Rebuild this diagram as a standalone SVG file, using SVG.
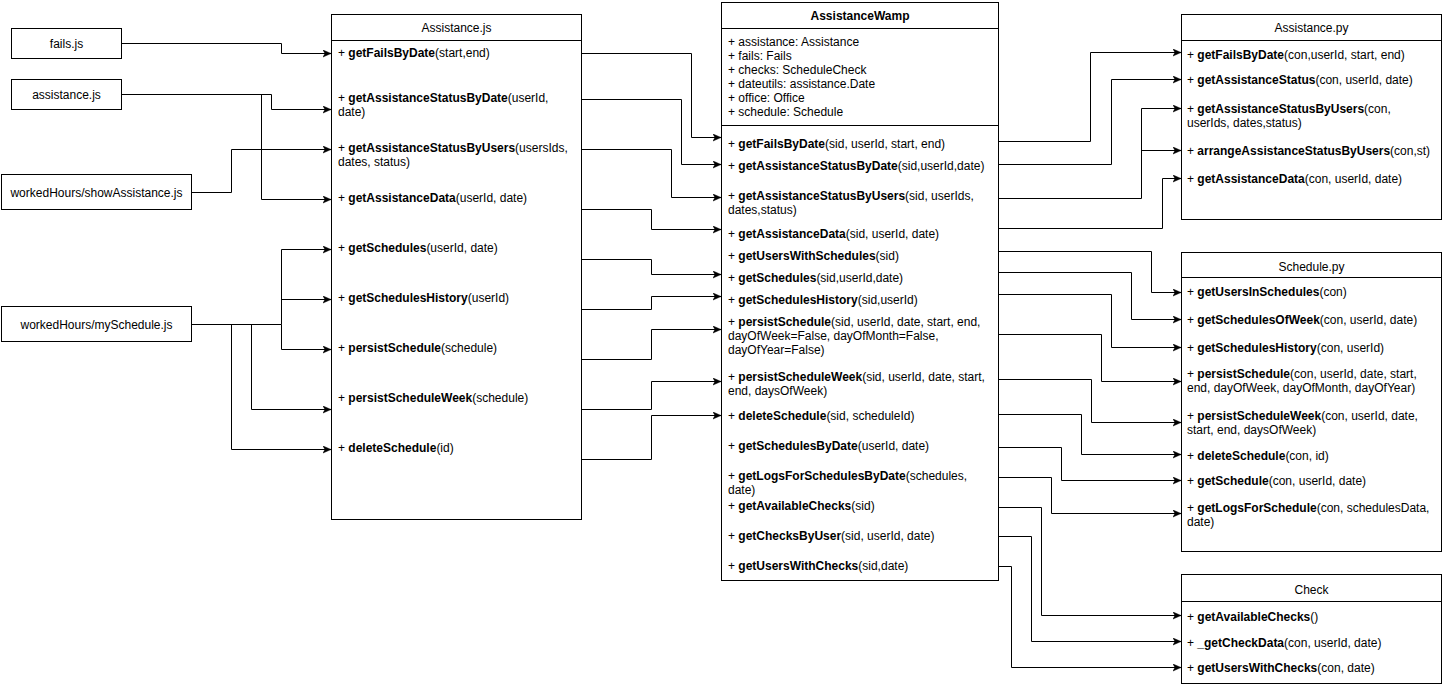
<svg xmlns="http://www.w3.org/2000/svg" width="1443" height="694" viewBox="0 0 1443 694">
<style>
.box{fill:#fff;stroke:#000;stroke-width:1}
.ln{fill:none;stroke:#000;stroke-width:1}
.t{font-family:"Liberation Sans",Arial,Helvetica,sans-serif;font-size:12px;fill:#000}
.c{text-anchor:middle}
.b{font-weight:bold}
.conn{fill:none;stroke:#000;stroke-width:1;marker-end:url(#arr)}
</style>
<defs>
<marker id="arr" markerUnits="userSpaceOnUse" markerWidth="9" markerHeight="8" viewBox="0 0 9 8" refX="8.5" refY="4" orient="auto">
<path d="M0.5,0.5 L8.5,4 L0.5,7.5 L2.5,4 z" fill="#000" stroke="#000" stroke-width="0.5"/>
</marker>
</defs>
<rect width="1443" height="694" fill="#fff"/>

<g id="connectors">
<path class="conn" d="M121.5,43.5 H281.5 V53.5 H331"/>
<path class="conn" d="M121.5,94.5 H271.5 V109.5 H331"/>
<path class="conn" d="M261.5,94.5 V199.5 H331"/>
<path class="conn" d="M191.5,192.5 H231.5 V149.5 H331"/>
<path class="conn" d="M191.5,324.5 H281.5 V249.5 H331"/>
<path class="conn" d="M281.5,299.5 H331"/>
<path class="conn" d="M281.5,324.5 V349.5 H331"/>
<path class="conn" d="M251.5,324.5 V409.5 H331"/>
<path class="conn" d="M231.5,324.5 V449.5 H331"/>

<path class="conn" d="M581.5,53.5 H691.5 V137.5 H721"/>
<path class="conn" d="M581.5,99.5 H681.5 V164.5 H721"/>
<path class="conn" d="M581.5,149.5 H671.5 V197.5 H721"/>
<path class="conn" d="M581.5,209.5 H651.5 V229.5 H721"/>
<path class="conn" d="M581.5,259.5 H651.5 V274.5 H721"/>
<path class="conn" d="M581.5,309.5 H651.5 V296.5 H721"/>
<path class="conn" d="M581.5,359.5 H651.5 V329.5 H721"/>
<path class="conn" d="M581.5,409.5 H651.5 V381.5 H721"/>
<path class="conn" d="M581.5,459.5 H651.5 V415.5 H721"/>

<path class="conn" d="M998.5,141.5 H1090.5 V52.5 H1181"/>
<path class="conn" d="M998.5,164.5 H1111.5 V79.5 H1181"/>
<path class="conn" d="M998.5,198.5 H1141.5 V108.5 H1181"/>
<path class="conn" d="M1141.5,150.5 H1181"/>
<path class="conn" d="M998.5,228.5 H1162.5 V178.5 H1181"/>

<path class="conn" d="M998.5,251.5 H1151.5 V292.5 H1181"/>
<path class="conn" d="M998.5,272.5 H1131.5 V319.5 H1181"/>
<path class="conn" d="M998.5,294.5 H1111.5 V347.5 H1181"/>
<path class="conn" d="M998.5,334.5 H1101.5 V381.5 H1181"/>
<path class="conn" d="M998.5,379.5 H1091.5 V422.5 H1181"/>
<path class="conn" d="M998.5,414.5 H1081.5 V454.5 H1181"/>
<path class="conn" d="M998.5,447.5 H1061.5 V480.5 H1181"/>
<path class="conn" d="M998.5,477.5 H1051.5 V513.5 H1181"/>

<path class="conn" d="M998.5,507.5 H1041.5 V615.5 H1181"/>
<path class="conn" d="M998.5,536.5 H1031.5 V641.5 H1181"/>
<path class="conn" d="M998.5,566.5 H1011.5 V667.5 H1181"/>
</g>

<g id="fails-js">
<rect class="box" x="11.5" y="28.5" width="110" height="30"/>
<text class="t c" x="66.5" y="47.5">fails.js</text>
</g>
<g id="assistance-js">
<rect class="box" x="11.5" y="79.5" width="110" height="30"/>
<text class="t c" x="66.5" y="98.5">assistance.js</text>
</g>
<g id="showAssistance-js">
<rect class="box" x="1.5" y="174.5" width="190" height="35"/>
<text class="t c" x="96.5" y="196.5">workedHours/showAssistance.js</text>
</g>
<g id="mySchedule-js">
<rect class="box" x="1.5" y="306.5" width="190" height="35"/>
<text class="t c" x="96.5" y="328.5">workedHours/mySchedule.js</text>
</g>

<g id="Assistance-js-class">
<rect class="box" x="331.5" y="14.5" width="250" height="505"/>
<path class="ln" d="M331.5,40.5 H581.5"/>
<text class="t c" x="456.5" y="32">Assistance.js</text>
<text class="t" x="338" y="57">+ <tspan class="b">getFailsByDate</tspan>(start,end)</text>
<text class="t" x="338" y="102">+ <tspan class="b">getAssistanceStatusByDate</tspan>(userId,</text>
<text class="t" x="338" y="116">date)</text>
<text class="t" x="338" y="152">+ <tspan class="b">getAssistanceStatusByUsers</tspan>(usersIds,</text>
<text class="t" x="338" y="166">dates, status)</text>
<text class="t" x="338" y="202">+ <tspan class="b">getAssistanceData</tspan>(userId, date)</text>
<text class="t" x="338" y="252">+ <tspan class="b">getSchedules</tspan>(userId, date)</text>
<text class="t" x="338" y="302">+ <tspan class="b">getSchedulesHistory</tspan>(userId)</text>
<text class="t" x="338" y="352">+ <tspan class="b">persistSchedule</tspan>(schedule)</text>
<text class="t" x="338" y="402">+ <tspan class="b">persistScheduleWeek</tspan>(schedule)</text>
<text class="t" x="338" y="452">+ <tspan class="b">deleteSchedule</tspan>(id)</text>
</g>

<g id="AssistanceWamp">
<rect class="box" x="721.5" y="2.5" width="277" height="578"/>
<path class="ln" d="M721.5,28.5 H998.5 M721.5,125.5 H998.5"/>
<text class="t c b" x="860" y="20">AssistanceWamp</text>
<text class="t" x="728" y="46">+ assistance: Assistance</text>
<text class="t" x="728" y="60">+ fails: Fails</text>
<text class="t" x="728" y="74">+ checks: ScheduleCheck</text>
<text class="t" x="728" y="88">+ dateutils: assistance.Date</text>
<text class="t" x="728" y="102">+ office: Office</text>
<text class="t" x="728" y="116">+ schedule: Schedule</text>
<text class="t" x="728" y="148">+ <tspan class="b">getFailsByDate</tspan>(sid, userId, start, end)</text>
<text class="t" x="728" y="170">+ <tspan class="b">getAssistanceStatusByDate</tspan>(sid,userId,date)</text>
<text class="t" x="728" y="200">+ <tspan class="b">getAssistanceStatusByUsers</tspan>(sid, userIds,</text>
<text class="t" x="728" y="214">dates,status)</text>
<text class="t" x="728" y="238">+ <tspan class="b">getAssistanceData</tspan>(sid, userId, date)</text>
<text class="t" x="728" y="260">+ <tspan class="b">getUsersWithSchedules</tspan>(sid)</text>
<text class="t" x="728" y="282">+ <tspan class="b">getSchedules</tspan>(sid,userId,date)</text>
<text class="t" x="728" y="304">+ <tspan class="b">getSchedulesHistory</tspan>(sid,userId)</text>
<text class="t" x="728" y="326">+ <tspan class="b">persistSchedule</tspan>(sid, userId, date, start, end,</text>
<text class="t" x="728" y="340">dayOfWeek=False, dayOfMonth=False,</text>
<text class="t" x="728" y="354">dayOfYear=False)</text>
<text class="t" x="728" y="381">+ <tspan class="b">persistScheduleWeek</tspan>(sid, userId, date, start,</text>
<text class="t" x="728" y="395">end, daysOfWeek)</text>
<text class="t" x="728" y="420">+ <tspan class="b">deleteSchedule</tspan>(sid, scheduleId)</text>
<text class="t" x="728" y="450">+ <tspan class="b">getSchedulesByDate</tspan>(userId, date)</text>
<text class="t" x="728" y="480">+ <tspan class="b">getLogsForSchedulesByDate</tspan>(schedules,</text>
<text class="t" x="728" y="494">date)</text>
<text class="t" x="728" y="510">+ <tspan class="b">getAvailableChecks</tspan>(sid)</text>
<text class="t" x="728" y="540">+ <tspan class="b">getChecksByUser</tspan>(sid, userId, date)</text>
<text class="t" x="728" y="570">+ <tspan class="b">getUsersWithChecks</tspan>(sid,date)</text>
</g>

<g id="Assistance-py">
<rect class="box" x="1181.5" y="14.5" width="260" height="205"/>
<path class="ln" d="M1181.5,40.5 H1441.5"/>
<text class="t c" x="1311.5" y="32">Assistance.py</text>
<text class="t" x="1187" y="59">+ <tspan class="b">getFailsByDate</tspan>(con,userId, start, end)</text>
<text class="t" x="1187" y="84">+ <tspan class="b">getAssistanceStatus</tspan>(con, userId, date)</text>
<text class="t" x="1187" y="113">+ <tspan class="b">getAssistanceStatusByUsers</tspan>(con,</text>
<text class="t" x="1187" y="127">userIds, dates,status)</text>
<text class="t" x="1187" y="155">+ <tspan class="b">arrangeAssistanceStatusByUsers</tspan>(con,st)</text>
<text class="t" x="1187" y="183">+ <tspan class="b">getAssistanceData</tspan>(con, userId, date)</text>
</g>

<g id="Schedule-py">
<rect class="box" x="1181.5" y="252.5" width="260" height="299"/>
<path class="ln" d="M1181.5,277.5 H1441.5"/>
<text class="t c" x="1311.5" y="271">Schedule.py</text>
<text class="t" x="1187" y="296">+ <tspan class="b">getUsersInSchedules</tspan>(con)</text>
<text class="t" x="1187" y="324">+ <tspan class="b">getSchedulesOfWeek</tspan>(con, userId, date)</text>
<text class="t" x="1187" y="352">+ <tspan class="b">getSchedulesHistory</tspan>(con, userId)</text>
<text class="t" x="1187" y="378">+ <tspan class="b">persistSchedule</tspan>(con, userId, date, start,</text>
<text class="t" x="1187" y="392">end, dayOfWeek, dayOfMonth, dayOfYear)</text>
<text class="t" x="1187" y="420">+ <tspan class="b">persistScheduleWeek</tspan>(con, userId, date,</text>
<text class="t" x="1187" y="434">start, end, daysOfWeek)</text>
<text class="t" x="1187" y="460">+ <tspan class="b">deleteSchedule</tspan>(con, id)</text>
<text class="t" x="1187" y="485">+ <tspan class="b">getSchedule</tspan>(con, userId, date)</text>
<text class="t" x="1187" y="512">+ <tspan class="b">getLogsForSchedule</tspan>(con, schedulesData,</text>
<text class="t" x="1187" y="526">date)</text>
</g>

<g id="Check">
<rect class="box" x="1181.5" y="574.5" width="260" height="109"/>
<path class="ln" d="M1181.5,601.5 H1441.5"/>
<text class="t c" x="1311.5" y="594">Check</text>
<text class="t" x="1187" y="621">+ <tspan class="b">getAvailableChecks</tspan>()</text>
<text class="t" x="1187" y="647">+ <tspan class="b">_getCheckData</tspan>(con, userId, date)</text>
<text class="t" x="1187" y="672">+ <tspan class="b">getUsersWithChecks</tspan>(con, date)</text>
</g>
</svg>
